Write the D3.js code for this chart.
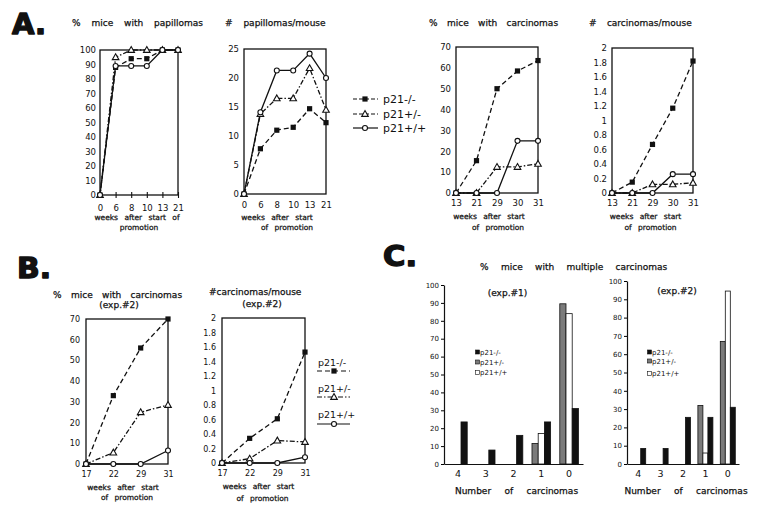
<!DOCTYPE html>
<html lang="en">
<head>
<meta charset="UTF-8">
<script src="https://d3js.org/d3.v7.min.js"></script>
<style>
  body { margin: 0; background: #fff; }
  svg text { font-family: "DejaVu Sans", sans-serif; fill: #111; }
  svg text.heavy { stroke: #111; stroke-width: 0.25; }
  svg text.big { stroke: #111; stroke-width: 1.4; stroke-linejoin: round; }
</style>
</head>
<body>
<div id="here"></div>
<script>
const genotypes = ["p21-/-", "p21+/-", "p21+/+"];

// A. papillomas, weeks after start of promotion
const papWeeks  = [0, 6, 8, 10, 13, 21];
const papPctKO  = [0, 88, 94, 94, 100, 100];
const papPctHet = [0, 95, 100, 100, 100, 100];
const papPctWT  = [0, 89, 89, 89, 100, 100];
const papNumKO  = [0, 7.8, 11, 11.5, 14.7, 12.3];
const papNumHet = [0, 13.8, 16.5, 16.5, 21.7, 14.5];
const papNumWT  = [0, 14.1, 21.3, 21.3, 24.2, 20];

// A. carcinomas
const carWeeks  = [13, 21, 29, 30, 31];
const carPctKO  = [0, 15.5, 50, 58.5, 63.5];
const carPctHet = [0, 0, 12.5, 12.5, 14];
const carPctWT  = [0, 0, 0, 25, 25];
const carNumKO  = [0, 0.15, 0.67, 1.17, 1.82];
const carNumHet = [0, 0, 0.12, 0.12, 0.14];
const carNumWT  = [0, 0, 0, 0.26, 0.26];

// B. carcinomas, exp.#2
const exp2Weeks  = [17, 22, 29, 31];
const exp2PctKO  = [0, 33, 56, 70];
const exp2PctHet = [0, 5.5, 25, 28.5];
const exp2PctWT  = [0, 0, 0, 6.5];
const exp2NumKO  = [0, 0.34, 0.61, 1.53];
const exp2NumHet = [0, 0.06, 0.31, 0.29];
const exp2NumWT  = [0, 0, 0, 0.08];

// C. % mice with multiple carcinomas
const multiCats = ["4", "3", "2", "1", "0"];
const multi1KO  = [23.5, 7.8, 16, 23.5, 31];
const multi1Het = [0, 0, 0, 11.5, 89.5];
const multi1WT  = [0, 0, 0, 17, 84];
const multi2KO  = [8.5, 8.5, 25.5, 25.5, 31];
const multi2Het = [0, 0, 0, 32, 67];
const multi2WT  = [0, 0, 0, 6, 94.5];

const ink = "#111";
const dashes = ["5,3", "5,2,1.5,2", null];

const svg = d3.select("#here").append("svg")
    .attr("width", 762)
    .attr("height", 517);

function drawMarker(g, kind, cx, cy) {
    if (kind === 0) {
        g.append("rect").attr("x", cx - 2.6).attr("y", cy - 2.6)
            .attr("width", 5.2).attr("height", 5.2).attr("fill", ink);
    } else if (kind === 1) {
        g.append("path").attr("d", `M${cx},${cy - 3.4}L${cx + 3.3},${cy + 2.4}L${cx - 3.3},${cy + 2.4}Z`)
            .attr("fill", "#fff").attr("stroke", ink).attr("stroke-width", 1.1);
    } else {
        g.append("circle").attr("cx", cx).attr("cy", cy).attr("r", 2.5)
            .attr("fill", "#fff").attr("stroke", ink).attr("stroke-width", 1.1);
    }
}

function label(txt, x, y, size, opts = {}) {
    const t = svg.append("text").attr("x", x).attr("y", y)
        .attr("font-size", size).text(txt);
    if (opts.anchor) t.attr("text-anchor", opts.anchor);
    if (opts.ws) t.attr("word-spacing", opts.ws);
    if (opts.cls) t.attr("class", opts.cls);
    return t;
}

function panelLetter(txt, x, y) {
    label(txt, x, y, 28, { cls: "big" })
        .attr("font-family", "Liberation Sans").attr("font-weight", "bold")
        .attr("textLength", 34).attr("lengthAdjust", "spacingAndGlyphs");
}

function lineChart(o) {
    const x = d3.scalePoint().domain(o.weeks).range([o.left, o.right]);
    const y = d3.scaleLinear().domain([0, o.max]).range([o.bottom, o.top]);
    const g = svg.append("g");

    g.append("rect")
        .attr("x", o.left).attr("y", o.top)
        .attr("width", o.right - o.left).attr("height", o.bottom - o.top)
        .attr("fill", "none").attr("stroke", ink).attr("stroke-width", 1.3);

    const ya = g.append("g")
        .attr("transform", `translate(${o.left},0)`)
        .call(d3.axisLeft(y)
            .tickValues(d3.range(0, o.max + o.step / 2, o.step))
            .tickSize(0).tickPadding(o.yPad)
            .tickFormat(o.fmt));
    ya.select(".domain").remove();
    ya.attr("font-family", "DejaVu Sans").attr("font-size", o.tickFont);

    const xa = g.append("g")
        .attr("transform", `translate(0,${o.bottom})`)
        .call(d3.axisBottom(x).tickSize(o.crossTicks ? 3 : 0).tickPadding(o.xPad));
    xa.select(".domain").remove();
    xa.attr("font-family", "DejaVu Sans").attr("font-size", o.tickFont);
    if (o.crossTicks) {
        xa.selectAll(".tick line").attr("y1", -3).attr("y2", 3).attr("stroke", ink).attr("stroke-width", 1.1);
    }

    const line = d3.line().x((d, j) => x(o.weeks[j])).y(d => y(d));
    o.series.forEach((vals, i) => {
        g.append("path").datum(vals)
            .attr("d", line)
            .attr("fill", "none").attr("stroke", ink).attr("stroke-width", 1.3)
            .attr("stroke-dasharray", dashes[i]);
    });
    o.series.forEach((vals, i) => {
        vals.forEach((v, j) => drawMarker(g, i, x(o.weeks[j]), y(v)));
    });

    const cx = (o.left + o.right) / 2;
    label("weeks after start" + (o.of1 ? " of" : ""), cx + o.l1dx, o.l1y, 7.5, { anchor: "middle", ws: 4, cls: "heavy" });
    label(o.of1 ? "promotion" : "of promotion", cx + o.l2dx, o.l2y, 7.5, { anchor: "middle", ws: 4, cls: "heavy" });
}

function barChart(o) {
    const x = d3.scaleBand().domain(multiCats).range([o.left, o.right])
        .paddingInner(0.33).paddingOuter(0.165);
    const sub = d3.scaleBand().domain([0, 1, 2]).range([0, x.bandwidth()]);
    const y = d3.scaleLinear().domain([0, 100]).range([o.bottom, o.top]);
    const g = svg.append("g");
    const fills = ["#7b7b7b", "#fff", ink];

    o.series.forEach((vals, i) => {
        vals.forEach((v, j) => {
            if (v <= 0) return;
            g.append("rect")
                .attr("x", x(multiCats[j]) + sub(i))
                .attr("y", y(v))
                .attr("width", sub.bandwidth())
                .attr("height", o.bottom - y(v))
                .attr("fill", fills[i])
                .attr("stroke", ink).attr("stroke-width", 0.8);
        });
    });

    const ya = g.append("g")
        .attr("transform", `translate(${o.left},0)`)
        .call(d3.axisLeft(y).tickValues(d3.range(0, 101, 10))
            .tickSize(3).tickSizeOuter(0).tickPadding(2));
    ya.attr("font-family", "DejaVu Sans").attr("font-size", 7);
    ya.select(".domain").attr("stroke", ink).attr("stroke-width", 1.2);

    const xa = g.append("g")
        .attr("transform", `translate(0,${o.bottom})`)
        .call(d3.axisBottom(x).tickSize(0).tickSizeOuter(0).tickPadding(6));
    xa.attr("font-family", "DejaVu Sans").attr("font-size", 9.5);
    xa.select(".domain").attr("stroke", ink).attr("stroke-width", 1.2);

    label(o.exp, o.expX, o.expY, 9, { anchor: "middle", cls: "heavy" });
    label("Number of carcinomas", (o.left + o.right) / 2 + 3, 494, 9, { anchor: "middle", ws: 10.5, cls: "heavy" });

    // legend: p21-/-, p21+/-, p21+/+
    const legFills = [ink, "#7b7b7b", "#fff"];
    genotypes.forEach((gname, i) => {
        const ly = o.legY[i];
        g.append("rect").attr("x", o.legX - 4.5).attr("y", ly - 4.5).attr("width", 4).attr("height", 4)
            .attr("fill", legFills[i]).attr("stroke", ink).attr("stroke-width", 0.6);
        label(gname, o.legX, ly, 7);
    });
}

// ---------- A ----------
panelLetter("A.", 12, 34);
label("% mice with papillomas", 72, 26, 9, { ws: 8, cls: "heavy" });
label("# papillomas/mouse", 225, 26, 9, { ws: 8, cls: "heavy" });
label("% mice with carcinomas", 429, 26, 9, { ws: 6.5, cls: "heavy" });
label("# carcinomas/mouse", 589, 26, 9, { ws: 7.5, cls: "heavy" });

const fmtInt = d3.format("d");
const fmtDec = d => String(+d.toFixed(1));

lineChart({ weeks: papWeeks, series: [papPctKO, papPctHet, papPctWT],
    left: 100, right: 178, top: 50, bottom: 195, max: 100, step: 10, fmt: fmtInt,
    tickFont: 8.5, yPad: 4, xPad: 7, crossTicks: true, of1: true,
    l1dx: -2, l1y: 220, l2dx: 0, l2y: 230 });
lineChart({ weeks: papWeeks, series: [papNumKO, papNumHet, papNumWT],
    left: 244, right: 326, top: 49, bottom: 194, max: 25, step: 5, fmt: fmtInt,
    tickFont: 8.5, yPad: 5, xPad: 8,
    l1dx: -8, l1y: 220, l2dx: 2, l2y: 230 });
lineChart({ weeks: carWeeks, series: [carPctKO, carPctHet, carPctWT],
    left: 456, right: 538, top: 47, bottom: 193, max: 70, step: 10, fmt: fmtInt,
    tickFont: 8.5, yPad: 5, xPad: 7,
    l1dx: -8, l1y: 219, l2dx: 1, l2y: 230 });
lineChart({ weeks: carWeeks, series: [carNumKO, carNumHet, carNumWT],
    left: 612, right: 693, top: 48, bottom: 193, max: 2, step: 0.2, fmt: fmtDec,
    tickFont: 8.5, yPad: 5, xPad: 7,
    l1dx: -7, l1y: 219, l2dx: -2, l2y: 230 });

// legend A
const legA = [99, 114, 128];
genotypes.forEach((gname, i) => {
    svg.append("line").attr("x1", 353).attr("x2", 378).attr("y1", legA[i]).attr("y2", legA[i])
        .attr("stroke", ink).attr("stroke-width", 1.2).attr("stroke-dasharray", dashes[i] ? "4,2" : null);
    drawMarker(svg, i, 365, legA[i]);
    label(gname, 383, legA[i] + 4, 11);
});

// ---------- B ----------
panelLetter("B.", 17, 278);
label("% mice with carcinomas", 53, 298, 9, { ws: 6.5, cls: "heavy" });
label("(exp.#2)", 119, 308, 9, { anchor: "middle", cls: "heavy" });
label("#carcinomas/mouse", 209, 295, 9, { cls: "heavy" });
label("(exp.#2)", 262, 306.5, 9, { anchor: "middle", cls: "heavy" });

lineChart({ weeks: exp2Weeks, series: [exp2PctKO, exp2PctHet, exp2PctWT],
    left: 86, right: 168, top: 319, bottom: 464, max: 70, step: 10, fmt: fmtInt,
    tickFont: 8, yPad: 6, xPad: 7,
    l1dx: -4, l1y: 489.5, l2dx: 0, l2y: 500 });
lineChart({ weeks: exp2Weeks, series: [exp2NumKO, exp2NumHet, exp2NumWT],
    left: 222, right: 305, top: 318, bottom: 463, max: 2, step: 0.2, fmt: fmtDec,
    tickFont: 8, yPad: 6, xPad: 7,
    l1dx: -5, l1y: 489, l2dx: -1, l2y: 500.5 });

// legend B
const legBText = [366, 392, 418];
const legBLine = [371, 397, 424];
genotypes.forEach((gname, i) => {
    label(gname, 318, legBText[i], 9.5);
    svg.append("line").attr("x1", 317).attr("x2", 350).attr("y1", legBLine[i]).attr("y2", legBLine[i])
        .attr("stroke", ink).attr("stroke-width", 1.2).attr("stroke-dasharray", dashes[i]);
    drawMarker(svg, i, 334, legBLine[i]);
});

// ---------- C ----------
panelLetter("C.", 383, 266);
label("% mice with multiple carcinomas", 480, 270, 9, { ws: 9.5, cls: "heavy" });

barChart({ series: [multi1Het, multi1WT, multi1KO],
    left: 444, right: 583, top: 285, bottom: 464,
    exp: "(exp.#1)", expX: 507.5, expY: 295.5,
    legX: 480, legY: [354.5, 364.5, 375] });
barChart({ series: [multi2Het, multi2WT, multi2KO],
    left: 627, right: 739, top: 281, bottom: 464,
    exp: "(exp.#2)", expX: 677, expY: 293.5,
    legX: 652, legY: [354.5, 363.5, 376] });
</script>
</body>
</html>
